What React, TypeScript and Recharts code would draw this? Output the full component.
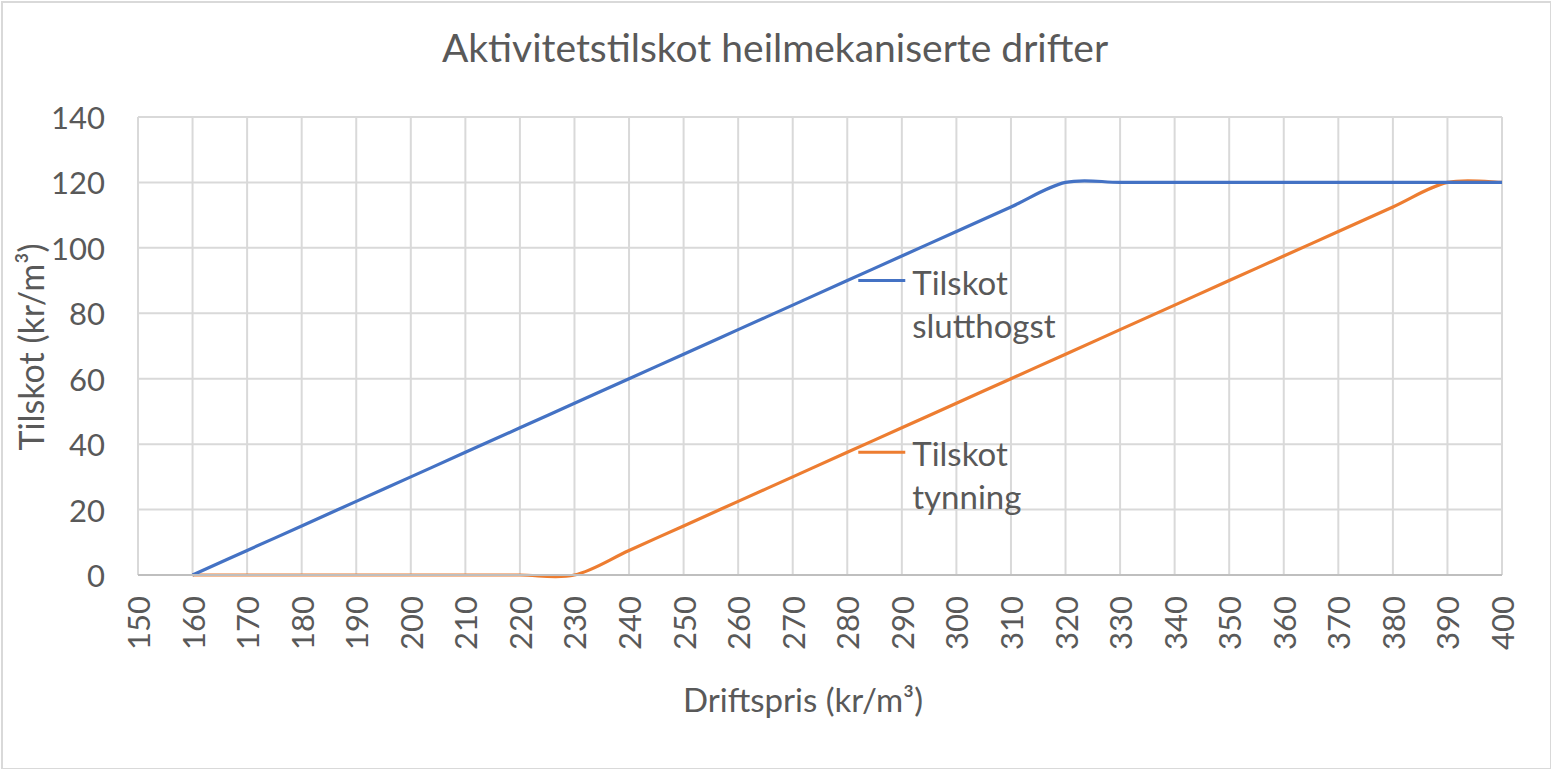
import { LineChart, Line, XAxis, YAxis, CartesianGrid } from "recharts";

// pris (kr/m³) og tilskot (kr/m³)
const PRIS = [160, 170, 180, 190, 200, 210, 220, 230, 240, 250, 260, 270, 280, 290, 300, 310, 320, 330, 340, 350, 360, 370, 380, 390, 400];
const SLUTTHOGST = [0, 7.5, 15, 22.5, 30, 37.5, 45, 52.5, 60, 67.5, 75, 82.5, 90, 97.5, 105, 112.5, 120, 120, 120, 120, 120, 120, 120, 120, 120];
const TYNNING = [0, 0, 0, 0, 0, 0, 0, 0, 7.5, 15, 22.5, 30, 37.5, 45, 52.5, 60, 67.5, 75, 82.5, 90, 97.5, 105, 112.5, 120, 120];
const X_TICKS = [150, 160, 170, 180, 190, 200, 210, 220, 230, 240, 250, 260, 270, 280, 290, 300, 310, 320, 330, 340, 350, 360, 370, 380, 390, 400];
const Y_TICKS = [0, 20, 40, 60, 80, 100, 120, 140];
const LABEL_AT = 280;

const data = PRIS.map((p, i) => ({ pris: p, slutt: SLUTTHOGST[i], tynn: TYNNING[i] }));

const FONT = "Lato, 'Open Sans', sans-serif";
const GREY = "#595959";
const BLUE = "#4472C4";
const ORANGE = "#ED7D31";

// Excel-liknande glatting (Catmull-Rom) - gir same vesle overskytinga
function smooth(context: any) {
  let pts: number[][] = [];
  return {
    areaStart() {},
    areaEnd() {},
    lineStart() { pts = []; },
    point(x: number, y: number) { pts.push([+x, +y]); },
    lineEnd() {
      if (!pts.length) return;
      context.moveTo(pts[0][0], pts[0][1]);
      for (let i = 0; i < pts.length - 1; i++) {
        const p0 = pts[i - 1] || pts[i];
        const p1 = pts[i];
        const p2 = pts[i + 1];
        const p3 = pts[i + 2] || p2;
        context.bezierCurveTo(
          p1[0] + (p2[0] - p0[0]) / 6, p1[1] + (p2[1] - p0[1]) / 6,
          p2[0] - (p3[0] - p1[0]) / 6, p2[1] - (p3[1] - p1[1]) / 6,
          p2[0], p2[1],
        );
      }
    },
  };
}

function seriesLabel(lines: string[], color: string) {
  return (props: any) => {
    const { x, y, index } = props;
    if (PRIS[index] !== LABEL_AT) return null;
    return (
      <g>
        <line x1={x + 11} x2={x + 58} y1={y} y2={y} stroke={color} strokeWidth={3} />
        {lines.map((t, k) => (
          <text key={k} x={x + 65} y={y + 1 + k * 43} dominantBaseline="central" fontSize={33} fill={GREY} fontFamily={FONT}>{t}</text>
        ))}
      </g>
    );
  };
}

const YTick = ({ y, payload }: any) => (
  <text x={105} y={y} textAnchor="end" dominantBaseline="central" fontSize={31} fill={GREY} fontFamily={FONT}>{payload.value}</text>
);

const XTick = ({ x, payload }: any) => (
  <text transform={`translate(${x},596) rotate(-90)`} textAnchor="end" dominantBaseline="central" fontSize={31} fill={GREY} fontFamily={FONT}>{payload.value}</text>
);

export default function App() {
  return (
    <div style={{ position: "absolute", left: 0, top: 0, width: 1551, height: 769, background: "#fff", fontFamily: FONT }}>
      <div style={{ position: "absolute", left: 1, top: 1, width: 1547, height: 765, border: "2px solid #d9d9d9", boxSizing: "content-box" }} />
      <LineChart width={1551} height={769} data={data} margin={{ top: 117, right: 49, bottom: 114, left: 0 }}>
        <CartesianGrid stroke="#d9d9d9" strokeWidth={2} />
        <XAxis
          dataKey="pris"
          type="number"
          domain={[150, 400]}
          ticks={X_TICKS}
          interval={0}
          height={80}
          stroke="#bfbfbf"
          strokeWidth={2}
          tickLine={false}
          tick={<XTick />}
        />
        <YAxis
          type="number"
          domain={[0, 140]}
          ticks={Y_TICKS}
          width={138}
          axisLine={false}
          tickLine={false}
          tick={<YTick />}
        />
        <Line dataKey="tynn" type={smooth as any} stroke={ORANGE} strokeWidth={3.2} dot={false} isAnimationActive={false} label={seriesLabel(["Tilskot", "tynning"], ORANGE)} />
        <Line dataKey="slutt" type={smooth as any} stroke={BLUE} strokeWidth={3.2} dot={false} isAnimationActive={false} label={seriesLabel(["Tilskot", "slutthogst"], BLUE)} />
        <text x={775} y={47} textAnchor="middle" dominantBaseline="central" fontSize={39} fill={GREY} fontFamily={FONT}>Aktivitetstilskot heilmekaniserte drifter</text>
        <text transform="translate(30,347) rotate(-90)" textAnchor="middle" dominantBaseline="central" fontSize={34} fill={GREY} fontFamily={FONT}>Tilskot (kr/m³)</text>
        <text x={803} y={699} textAnchor="middle" dominantBaseline="central" fontSize={33} fill={GREY} fontFamily={FONT}>Driftspris (kr/m³)</text>
      </LineChart>
    </div>
  );
}
